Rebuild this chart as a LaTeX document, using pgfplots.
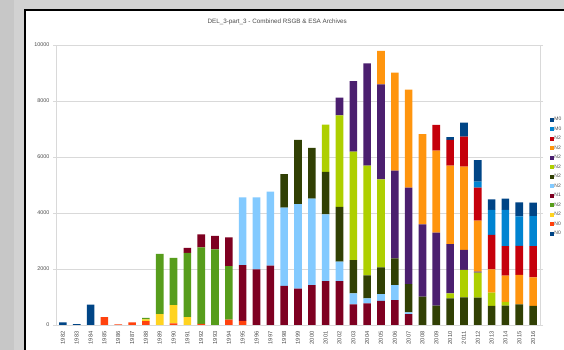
\documentclass[border=0pt]{standalone}
\usepackage{pgfplots}
\pgfplotsset{compat=1.18}
\usepackage{pgfplotstable}
\usepackage{fontspec}
\setmainfont{Liberation Sans}
\definecolor{cA}{HTML}{004586}
\definecolor{cB}{HTML}{FF420E}
\definecolor{cC}{HTML}{FFD320}
\definecolor{cD}{HTML}{579D1C}
\definecolor{cE}{HTML}{7E0021}
\definecolor{cF}{HTML}{83CAFF}
\definecolor{cG}{HTML}{314004}
\definecolor{cH}{HTML}{AECF00}
\definecolor{cI}{HTML}{4B1F6F}
\definecolor{cJ}{HTML}{FF950E}
\definecolor{cK}{HTML}{C5000B}
\definecolor{cL}{HTML}{0084D1}
\definecolor{cM}{HTML}{004586}
\definecolor{gridc}{HTML}{D9D9D9}
\definecolor{framegray}{HTML}{D2D2D2}
\pgfplotstableread{
x s1 s2 s3 s4 s5 s6 s7 s8 s9 s10 s11 s12 s13
0 90 0 0 0 0 0 0 0 0 0 0 0 0
1 30 0 0 0 0 0 0 0 0 0 0 0 0
2 730 0 0 0 0 0 0 0 0 0 0 0 0
3 0 280 0 0 0 0 0 0 0 0 0 0 0
4 0 20 0 0 0 0 0 0 0 0 0 0 0
5 0 90 0 0 0 0 0 0 0 0 0 0 0
6 0 140 60 50 0 0 0 0 0 0 0 0 0
7 0 0 390 2150 0 0 0 0 0 0 0 0 0
8 0 60 650 1690 0 0 0 0 0 0 0 0 0
9 0 0 280 2300 170 0 0 0 0 0 0 0 0
10 0 40 0 2730 470 0 0 0 0 0 0 0 0
11 0 0 0 2700 480 0 0 0 0 0 0 0 0
12 0 190 0 1910 1030 0 0 0 0 0 0 0 0
13 0 150 0 0 1990 2420 0 0 0 0 0 0 0
14 0 0 0 0 1990 2570 0 0 0 0 0 0 0
15 0 0 0 0 2120 2640 0 0 0 0 0 0 0
16 0 0 0 0 1400 2790 1200 0 0 0 0 0 0
17 0 0 0 0 1300 3020 2290 0 0 0 0 0 0
18 0 0 0 0 1420 3090 1820 0 0 0 0 0 0
19 0 0 0 0 1570 2380 1520 1690 0 0 0 0 0
20 0 0 0 0 1570 690 1960 3270 630 0 0 0 0
21 0 0 0 0 740 390 1190 3870 2520 0 0 0 0
22 0 0 0 0 770 180 820 3920 3650 0 0 0 0
23 0 0 0 0 860 240 960 3140 3390 1200 0 0 0
24 0 0 0 0 890 530 960 0 3130 3500 0 0 0
25 0 0 0 0 390 60 1010 0 3450 3500 0 0 0
26 0 0 0 0 0 0 1010 0 2580 3230 0 0 0
27 0 0 0 0 0 0 690 0 2610 2930 920 0 0
28 0 0 0 0 0 0 950 180 1760 2800 920 0 100
29 0 0 0 0 0 0 990 980 710 2980 1070 0 500
30 0 0 0 0 0 0 980 890 40 1820 1180 210 770
31 0 0 0 0 0 0 680 480 0 830 1230 890 380
32 0 0 0 0 0 0 690 140 0 930 1060 1290 400
33 0 0 0 0 0 0 740 0 0 1050 1035 1050 500
34 0 0 0 0 0 0 680 0 0 1020 1120 1070 480
}\datatable
\begin{document}
\begin{tikzpicture}[x=1pt,y=1pt]
\useasboundingbox (0,0) rectangle (564,350);
\clip (0,0) rectangle (564,350);
\fill[framegray] (0,0) rectangle (564,350);
\fill[black!22] (0,0) rectangle (14,350);
\fill[white] (26,0) rectangle (564,339);
\draw[line width=2.2pt,black] (25,0) -- (25,340) -- (564,340);
\begin{axis}[
  at={(56pt,25pt)}, anchor=south west,
  scale only axis, width=484pt, height=280pt,
  ybar stacked, bar width=0.55,
  xmin=-0.5, xmax=34.5, ymin=0, ymax=10000,
  xtick={0,...,34},
  xticklabels={1982,1983,1984,1985,1986,1987,1988,1989,1990,1991,1992,1993,1994,1995,1996,1997,1998,1999,2000,2001,2002,2003,2004,2005,2006,2007,2008,2009,2010,2011,2012,2013,2014,2015,2016},
  ytick={0,2000,4000,6000,8000,10000},
  scaled y ticks=false,
  yticklabel style={/pgf/number format/fixed, /pgf/number format/1000 sep={}},
  /pgf/number format/1000 sep={},
  /pgf/number format/assume math mode=true,
  x tick label style={rotate=90, anchor=east, font=\fontsize{5.8}{6}\selectfont, text=black!70},
  y tick label style={font=\fontsize{5.4}{6}\selectfont, text=black!70},
  ymajorgrids, major grid style={gridc, line width=0.9pt},
  axis line style={gridc, line width=0.9pt},
  major tick length=3pt,
  xtick style={draw=none},
  ytick style={gridc, line width=0.9pt},
  tick align=outside,
  title={DEL\_3-part\_3 - Combined RSGB \& ESA Archives},
  title style={at={(axis description cs:0.457,1.06)}, anchor=center, font=\fontsize{6.3}{7}\selectfont, text=black!70},
  every axis plot/.append style={draw=none},
  reverse legend,
  legend image code/.code={\fill[#1] (0pt,-2pt) rectangle (4pt,2pt);},
  legend style={at={(axis description cs:1.02,0.75)}, anchor=north west, draw=none, fill=none,
    font=\fontsize{5}{6}\selectfont, text=black!70, row sep=0pt, inner sep=0pt,
    nodes={inner sep=0.6pt, minimum height=9.5pt}},
  legend cell align=left,
]
\addplot[fill=cA] table[x=x,y=s1]{\datatable};
\addplot[fill=cB] table[x=x,y=s2]{\datatable};
\addplot[fill=cC] table[x=x,y=s3]{\datatable};
\addplot[fill=cD] table[x=x,y=s4]{\datatable};
\addplot[fill=cE] table[x=x,y=s5]{\datatable};
\addplot[fill=cF] table[x=x,y=s6]{\datatable};
\addplot[fill=cG] table[x=x,y=s7]{\datatable};
\addplot[fill=cH] table[x=x,y=s8]{\datatable};
\addplot[fill=cI] table[x=x,y=s9]{\datatable};
\addplot[fill=cJ] table[x=x,y=s10]{\datatable};
\addplot[fill=cK] table[x=x,y=s11]{\datatable};
\addplot[fill=cL] table[x=x,y=s12]{\datatable};
\addplot[fill=cM] table[x=x,y=s13]{\datatable};
\legend{N0,N0,N2,N2,N1,N2,N2,N2,N2,N2,N2,M0,M0}
\end{axis}
\end{tikzpicture}
\end{document}
